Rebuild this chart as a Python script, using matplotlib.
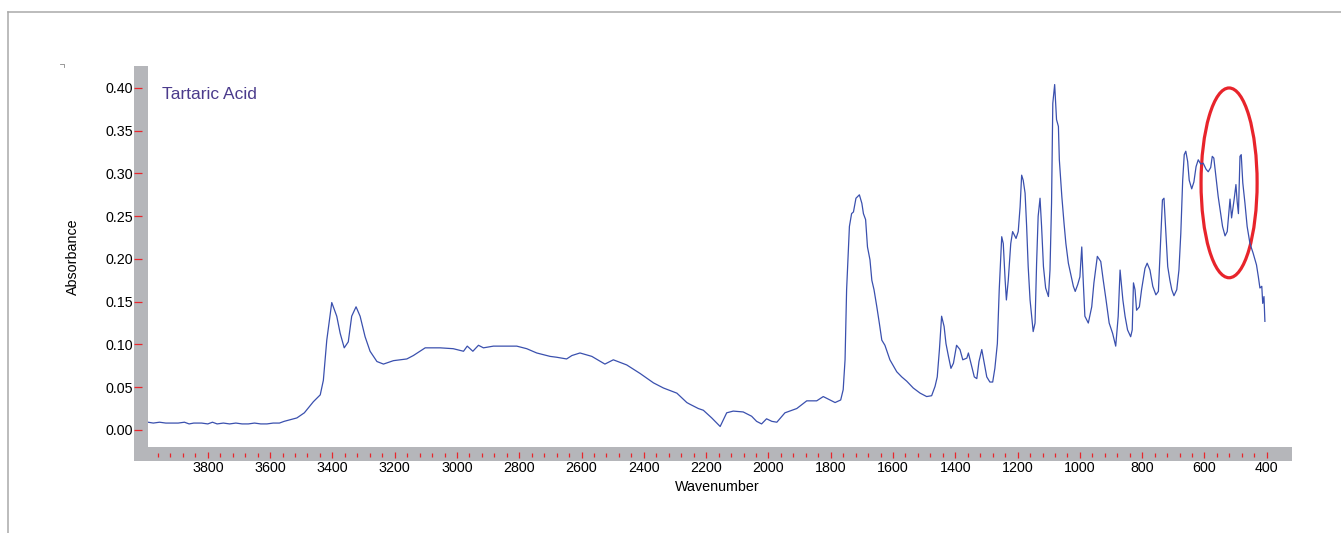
import numpy as np
import matplotlib
matplotlib.use("Agg")
import matplotlib.pyplot as plt
from matplotlib.patches import Rectangle, Ellipse
from matplotlib.lines import Line2D
from matplotlib.ticker import FixedLocator, FuncFormatter

plt.rcParams['font.family'] = ['Liberation Sans', 'DejaVu Sans']

# Spectrum (wavenumber in cm-1, absorbance)
wavenumber = [
    3992, 3975, 3955, 3935, 3915, 3895, 3875, 3860, 3845, 3820, 3800, 3785, 3770, 3750,
    3730, 3710, 3690, 3670, 3650, 3630, 3610, 3590, 3570, 3555, 3535, 3514, 3490, 3461,
    3439, 3429, 3418, 3402, 3386, 3375, 3362, 3349, 3338, 3324, 3311, 3295, 3279, 3257,
    3236, 3204, 3161, 3140, 3102, 3054, 3012, 2979, 2967, 2949, 2931, 2915, 2883, 2808,
    2776, 2744, 2701, 2680, 2648, 2631, 2605, 2567, 2525, 2498, 2455, 2412, 2369, 2337,
    2294, 2262, 2252, 2225, 2209, 2182, 2155, 2134, 2113, 2081, 2054, 2038, 2022, 2006,
    1989, 1973, 1947, 1909, 1877, 1845, 1824, 1797, 1786, 1768, 1760, 1754, 1749, 1743,
    1740, 1733, 1727, 1719, 1708, 1700, 1695, 1688, 1682, 1674, 1668, 1661, 1652, 1644,
    1636, 1626, 1610, 1588, 1572, 1556, 1535, 1513, 1492, 1476, 1465, 1458, 1451, 1444,
    1436, 1430, 1422, 1414, 1406, 1396, 1385, 1376, 1363, 1358, 1347, 1339, 1331, 1324,
    1315, 1308, 1299, 1289, 1280, 1273, 1265, 1259, 1251, 1246, 1240, 1236, 1230, 1222,
    1216, 1205, 1198, 1192, 1187, 1182, 1176, 1171, 1166, 1160, 1155, 1150, 1144, 1139,
    1134, 1128, 1123, 1117, 1110, 1101, 1096, 1091, 1087, 1081, 1075, 1069, 1066, 1058,
    1051, 1045, 1037, 1030, 1021, 1015, 1007, 1000, 994, 989, 984, 973, 962, 955,
    944, 933, 925, 916, 906, 895, 885, 877, 871, 862, 855, 847, 837, 832,
    828, 823, 818, 809, 802, 791, 784, 775, 766, 756, 748, 743, 735, 730,
    724, 718, 711, 705, 698, 689, 682, 676, 670, 665, 660, 654, 649, 641,
    634, 627, 620, 612, 604, 595, 588, 580, 575, 570, 563, 556, 548, 542,
    534, 527, 521, 518, 513, 505, 499, 495, 491, 486, 482, 477, 470, 463,
    454, 444, 433, 427, 422, 416, 413, 409, 406,
]
absorbance = [
    0.009, 0.008, 0.009, 0.008, 0.008, 0.008, 0.009, 0.007, 0.008, 0.008, 0.007, 0.009, 0.007, 0.008,
    0.007, 0.008, 0.007, 0.007, 0.008, 0.007, 0.007, 0.008, 0.008, 0.010, 0.012, 0.014, 0.020, 0.033,
    0.041, 0.058, 0.105, 0.149, 0.133, 0.113, 0.096, 0.103, 0.133, 0.144, 0.133, 0.109, 0.092, 0.080,
    0.077, 0.081, 0.083, 0.087, 0.096, 0.096, 0.095, 0.092, 0.098, 0.092, 0.099, 0.096, 0.098, 0.098,
    0.095, 0.090, 0.086, 0.085, 0.083, 0.087, 0.090, 0.086, 0.077, 0.082, 0.076, 0.066, 0.055, 0.049,
    0.043, 0.032, 0.030, 0.025, 0.023, 0.014, 0.004, 0.020, 0.022, 0.021, 0.016, 0.010, 0.007, 0.013,
    0.010, 0.009, 0.020, 0.025, 0.034, 0.034, 0.039, 0.034, 0.032, 0.035, 0.047, 0.082, 0.164, 0.214,
    0.238, 0.253, 0.255, 0.271, 0.275, 0.265, 0.253, 0.246, 0.214, 0.199, 0.175, 0.164, 0.144, 0.125,
    0.105, 0.099, 0.082, 0.068, 0.062, 0.057, 0.049, 0.043, 0.039, 0.040, 0.051, 0.062, 0.094, 0.133,
    0.121, 0.101, 0.086, 0.072, 0.078, 0.099, 0.094, 0.082, 0.084, 0.090, 0.074, 0.062, 0.060, 0.080,
    0.094, 0.080, 0.062, 0.056, 0.056, 0.072, 0.101, 0.164, 0.226, 0.218, 0.175, 0.152, 0.175, 0.218,
    0.232, 0.224, 0.232, 0.261, 0.298, 0.292, 0.277, 0.238, 0.191, 0.152, 0.133, 0.115, 0.125, 0.195,
    0.250, 0.271, 0.238, 0.191, 0.166, 0.156, 0.187, 0.265, 0.382, 0.404, 0.363, 0.355, 0.316, 0.273,
    0.242, 0.218, 0.195, 0.183, 0.168, 0.162, 0.170, 0.179, 0.214, 0.172, 0.133, 0.125, 0.144, 0.172,
    0.203, 0.197, 0.175, 0.152, 0.125, 0.113, 0.098, 0.133, 0.187, 0.152, 0.133, 0.117, 0.109, 0.117,
    0.172, 0.164, 0.140, 0.144, 0.164, 0.189, 0.195, 0.187, 0.168, 0.158, 0.162, 0.203, 0.269, 0.271,
    0.230, 0.191, 0.175, 0.164, 0.157, 0.164, 0.187, 0.230, 0.292, 0.322, 0.326, 0.314, 0.292, 0.282,
    0.290, 0.308, 0.316, 0.311, 0.312, 0.305, 0.302, 0.307, 0.320, 0.318, 0.296, 0.273, 0.253, 0.238,
    0.227, 0.232, 0.257, 0.270, 0.248, 0.269, 0.287, 0.267, 0.253, 0.320, 0.322, 0.289, 0.265, 0.238,
    0.218, 0.207, 0.193, 0.179, 0.166, 0.168, 0.148, 0.156, 0.127,
]

y_ticks = [0.00, 0.05, 0.10, 0.15, 0.20, 0.25, 0.30, 0.35, 0.40]
x_major = list(range(3800, 399, -200))
x_minor = [w for w in range(3960, 439, -40) if w % 200 != 0]

sample_name = "Tartaric Acid"
highlight_center = (521, 0.289)   # circled region (cm-1, absorbance)
highlight_size = (180, 0.222)

W, H = 1341, 533
fig = plt.figure(figsize=(W / 100, H / 100), dpi=100)

def fx(px):
    return px / W

def fy(py):
    return 1 - py / H

# data area
ax = fig.add_axes([fx(148), fy(447), fx(1292) - fx(148), fy(66) - fy(447)])

# grey bands of the axes
band = '#b5b6ba'
fig.add_artist(Rectangle((fx(134), fy(461)), fx(148) - fx(134), fy(66) - fy(461),
                         color=band, lw=0, zorder=0))
fig.add_artist(Rectangle((fx(134), fy(461)), fx(1292) - fx(134), fy(447) - fy(461),
                         color=band, lw=0, zorder=0))

ax.plot(wavenumber, absorbance, color='#3a50ae', lw=0.9)

ax.add_patch(Ellipse(highlight_center, highlight_size[0], highlight_size[1],
                     fill=False, edgecolor='#e8242b', lw=2.3))

ax.text(3947, 0.392, sample_name, color='#4b3b8c', fontsize=12.5, ha='left', va='center')

ax.set_xlim(3992, 319)
ax.set_ylim(-0.02, 0.4257)

for s in ax.spines.values():
    s.set_visible(False)
ax.spines['left'].set_position(('outward', 10.1))
ax.spines['bottom'].set_position(('outward', 6.0))

red = '#e8262b'
ax.set_yticks(y_ticks)
ax.yaxis.set_major_formatter(FuncFormatter(lambda v, p: f"{v:.2f}"))
ax.tick_params(axis='y', direction='in', length=5.8, width=0.9, color=red,
               pad=0.8, labelsize=10.3, labelcolor='black')

ax.xaxis.set_major_locator(FixedLocator(x_major))
ax.xaxis.set_minor_locator(FixedLocator(x_minor))
ax.tick_params(axis='x', which='major', direction='inout', length=5.0, width=0.9,
               color=red, pad=1.6, labelsize=10.3, labelcolor='black')
ax.tick_params(axis='x', which='minor', direction='inout', length=2.2, width=0.9, color=red)

fig.text(fx(73), fy(257), "Absorbance", rotation=90, ha='center', va='center', fontsize=10.3)
fig.text(fx(717), fy(487), "Wavenumber", ha='center', va='center', fontsize=10.3)

# page frame
frame = '#a9a9a9'
fig.add_artist(Line2D([fx(8.3), 1], [fy(11.7), fy(11.7)], color=frame, lw=1.1))
fig.add_artist(Line2D([fx(8.3), fx(8.3)], [0, fy(11.7)], color=frame, lw=1.1))
fig.add_artist(Line2D([fx(60), fx(64), fx(64)], [fy(64), fy(64), fy(67)], color='#888888', lw=0.6))

fig.savefig("out.png", dpi=100)
